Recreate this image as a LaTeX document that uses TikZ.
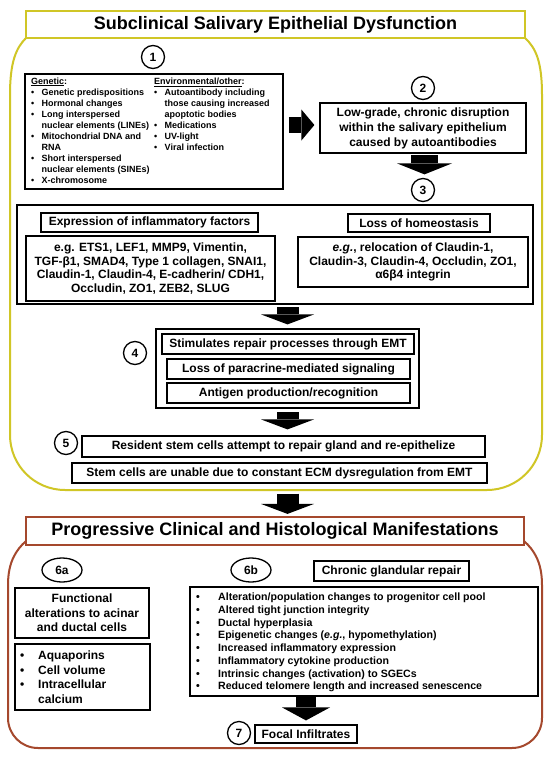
\documentclass[tikz,border=0pt]{standalone}
\usepackage{fontspec}
\setmainfont{Liberation Sans}
\usetikzlibrary{arrows.meta,shapes.geometric}
\definecolor{ylw}{RGB}{208,198,38}
\definecolor{rdb}{RGB}{165,72,45}
\newcommand{\bul}[1]{\makebox[#1][l]{•}}
\newcommand{\ind}[1]{\hspace*{#1}}
\begin{document}
\begin{tikzpicture}[x=1pt,y=-1pt,
  bx/.style={draw=black,line width=1.2pt,fill=white,inner sep=0pt,align=center,font=\fontsize{12}{15}\selectfont\bfseries},
  num/.style={circle,draw=black,line width=1.3pt,fill=white,inner sep=0pt,minimum size=23pt,font=\fontsize{12}{12}\selectfont\bfseries},
  numel/.style={ellipse,draw=black,line width=1.3pt,fill=white,inner sep=0pt,minimum width=40pt,minimum height=24pt,font=\fontsize{12}{12}\selectfont\bfseries},
  ttl/.style={line width=2.2pt,fill=white,inner sep=0pt,minimum width=499pt,minimum height=27pt,font=\fontsize{18}{18}\selectfont\bfseries},
  lst/.style={inner sep=0pt,anchor=base west},
  region/.style={line width=2pt},
  harrow/.style={line width=16pt,-{Triangle[width=31pt,length=13pt,line width=0pt]}},
  varrow/.style={line width=22pt,-{Triangle[width=53pt,length=10pt,line width=0pt]}},
  varrowb/.style={line width=27pt,-{Triangle[width=55pt,length=11pt,line width=0pt]}},
  varrowc/.style={line width=20pt,-{Triangle[width=48pt,length=13pt,line width=0pt]}},
  ]
\useasboundingbox (0,0) rectangle (550,758);
\fill[white] (0,0) rectangle (550,758);

% regions
\draw[region,draw=ylw] (26,38) .. controls (16,48) and (10,62) .. (10,95) -- (10,435)
  .. controls (10,465.4) and (34.6,490) .. (65,490) -- (487,490)
  .. controls (517.4,490) and (542,465.4) .. (542,435) -- (542,95)
  .. controls (542,62) and (536,48) .. (525,38);
\draw[region,draw=rdb] (26,541) .. controls (16,550) and (8,562) .. (8,585) -- (8,718)
  .. controls (8,734.6) and (21.4,748) .. (38,748) -- (512,748)
  .. controls (528.6,748) and (542,734.6) .. (542,718) -- (542,585)
  .. controls (542,562) and (534,550) .. (524,541);

% titles
\node[ttl,draw=ylw] (t1) at (275.5,24.5) {Subclinical Salivary Epithelial Dysfunction};
\node[ttl,draw=rdb,minimum width=498pt,minimum height=28pt] (t2) at (275,531) {Progressive Clinical and Histological Manifestations};

% step 1
\node[num] (c1) at (153,57) {1};
\node[bx,line width=1.5pt,minimum width=258pt,minimum height=115pt] (b1) at (154,131.5) {};
\node[lst] (gen) at (31,84.2) {\begin{minipage}[t]{125pt}\fontsize{9}{11}\selectfont\bfseries
\underline{Genetic}:\\
\bul{10.5pt}Genetic predispositions\\
\bul{10.5pt}Hormonal changes\\
\bul{10.5pt}Long interspersed\\
\ind{10.5pt}nuclear elements (LINEs)\\
\bul{10.5pt}Mitochondrial DNA and\\
\ind{10.5pt}RNA\\
\bul{10.5pt}Short interspersed\\
\ind{10.5pt}nuclear elements (SINEs)\\
\bul{10.5pt}X-chromosome
\end{minipage}};
\node[lst] (env) at (154,84.2) {\begin{minipage}[t]{128pt}\fontsize{9}{11}\selectfont\bfseries
\underline{Environmental/other}:\\
\bul{10.5pt}Autoantibody including\\
\ind{10.5pt}those causing increased\\
\ind{10.5pt}apoptotic bodies\\
\bul{10.5pt}Medications\\
\bul{10.5pt}UV-light\\
\bul{10.5pt}Viral infection
\end{minipage}};

% step 2
\node[num] (c2) at (423,88) {2};
\node[bx,minimum width=206pt,minimum height=50pt] (b2) at (423,128) {Low-grade, chronic disruption\\within the salivary epithelium\\caused by autoantibodies};
\node[num] (c3) at (423,190) {3};

% step 3
\node[bx,minimum width=516pt,minimum height=99pt] (bb) at (275,254.5) {};
\node[bx,minimum width=217pt,minimum height=19pt] (ex) at (149.5,222.5) {Expression of inflammatory factors};
\node[bx,minimum width=249pt,minimum height=65pt,font=\fontsize{12}{13.6}\selectfont\bfseries] (e1) at (150.5,268.5) {e.g. ETS1, LEF1, MMP9, Vimentin,\\TGF-β1, SMAD4, Type 1 collagen, SNAI1,\\Claudin-1, Claudin-4, E-cadherin/ CDH1,\\Occludin, ZO1, ZEB2, SLUG};
\node[bx,minimum width=142pt,minimum height=18pt] (lo) at (419,223) {Loss of homeostasis};
\node[bx,minimum width=230pt,minimum height=50pt,font=\fontsize{12}{13.8}\selectfont\bfseries] (e2) at (413,262) {\textit{e.g.}, relocation of Claudin-1,\\Claudin-3, Claudin-4, Occludin, ZO1,\\α6β4 integrin};

% step 4
\node[bx,minimum width=263pt,minimum height=79pt] (b4) at (287.5,368.5) {};
\node[bx,minimum width=252pt,minimum height=20pt] (st) at (288,344) {Stimulates repair processes through EMT};
\node[bx,minimum width=243pt,minimum height=20pt] (pa) at (288.5,369) {Loss of paracrine-mediated signaling};
\node[bx,minimum width=243pt,minimum height=20pt] (an) at (288.5,393) {Antigen production/recognition};
\node[num] (c4) at (135,353) {4};

% step 5
\node[num] (c5) at (66,443) {5};
\node[bx,minimum width=403pt,minimum height=21pt] (re) at (283.5,446.5) {Resident stem cells attempt to repair gland and re-epithelize};
\node[bx,minimum width=415pt,minimum height=20pt] (sc) at (279.5,473) {Stem cells are unable due to constant ECM dysregulation from EMT};

% step 6a
\node[numel] (c6a) at (62,570) {6a};
\node[bx,minimum width=134pt,minimum height=50pt,font=\fontsize{12}{14.3}\selectfont\bfseries] (fu) at (82,613) {Functional\\alterations to acinar\\and ductal cells};
\node[bx,minimum width=135pt,minimum height=66pt] (aq) at (82.5,677) {};
\node[lst] (aql) at (20,659.4) {\begin{minipage}[t]{125pt}\fontsize{12}{14.7}\selectfont\bfseries
\bul{18pt}Aquaporins\\
\bul{18pt}Cell volume\\
\bul{18pt}Intracellular\\
\ind{18pt}calcium
\end{minipage}};

% step 6b
\node[numel] (c6b) at (251,570) {6b};
\node[bx,minimum width=155pt,minimum height=20pt] (ch) at (391.5,571) {Chronic glandular repair};
\node[bx,minimum width=348pt,minimum height=109pt] (l6) at (364,641.5) {};
\node[lst] (l6t) at (196,600.8) {\begin{minipage}[t]{340pt}\fontsize{10.6}{12.7}\selectfont\bfseries
\bul{22pt}Alteration/population changes to progenitor cell pool\\
\bul{22pt}Altered tight junction integrity\\
\bul{22pt}Ductal hyperplasia\\
\bul{22pt}Epigenetic changes (\textit{e.g.}, hypomethylation)\\
\bul{22pt}Increased inflammatory expression\\
\bul{22pt}Inflammatory cytokine production\\
\bul{22pt}Intrinsic changes (activation) to SGECs\\
\bul{22pt}Reduced telomere length and increased senescence
\end{minipage}};

% step 7
\node[num] (c7) at (239,733) {7};
\node[bx,minimum width=102pt,minimum height=18pt] (fo) at (306,734) {Focal Infiltrates};

% block arrows
\draw[harrow,shorten <=5pt,shorten >=5pt] ([yshift=6.5pt]b1.east) -- ([yshift=3pt]b2.west);
\draw[varrowb,shorten <=1.5pt,shorten >=3.5pt] ([xshift=1.5pt]b2.south) -- ([xshift=1.5pt]c3.north);
\draw[varrow,shorten <=2.5pt,shorten >=4pt] (bb.south -| b4.north) -- (b4.north);
\draw[varrow,shorten <=3.5pt,shorten >=6pt] (b4.south) -- (b4.south |- re.north);
\draw[varrow,shorten <=10pt,shorten >=2pt] ([xshift=8pt]sc.south) -- ([xshift=8pt]sc.south |- t2.north);
\draw[varrowc,shorten <=0.5pt,shorten >=4pt] (fo.north |- l6.south) -- (fo.north);
\end{tikzpicture}
\end{document}
